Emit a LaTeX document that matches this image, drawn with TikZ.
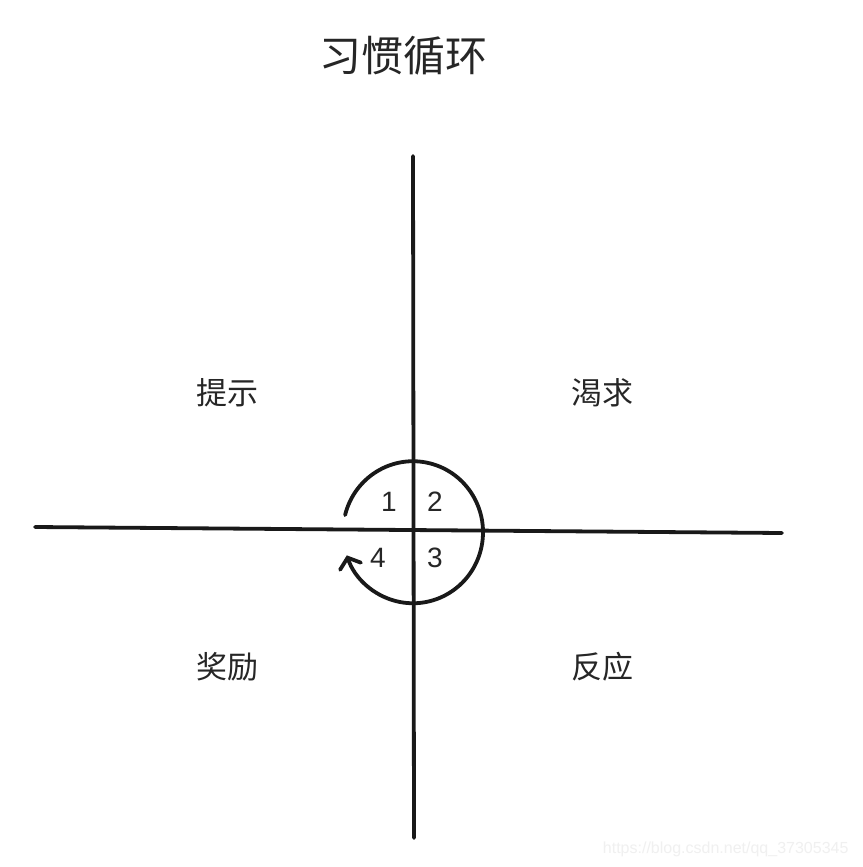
\documentclass[tikz,border=0pt]{standalone}
\usepackage{fontspec}
\setmainfont{Liberation Sans}
\newfontfamily\cjk{Noto Sans CJK SC}
\usetikzlibrary{arrows.meta}
\begin{document}
\begin{tikzpicture}[x=1pt,y=-1pt,
  axis/.style={line width=3.8pt,line cap=round,black!90},
  lab/.style={font=\cjk\fontsize{31}{36}\selectfont,text=black!85},
  num/.style={font=\fontsize{28}{32}\selectfont,text=black!85}]
\useasboundingbox[fill=white] (0,0) rectangle (862,867);
\node[font=\cjk\fontsize{42}{48}\selectfont,text=black!85] (title) at (403,56) {习惯循环};
\coordinate (vt) at (413,156);
\coordinate (vb) at (414,838);
\coordinate (hl) at (35,527);
\coordinate (hr) at (782,533);
\draw[axis] (vt) -- (vb);
\draw[axis] (hl) -- (hr);
\coordinate (c) at (413,532);
\draw[line width=3.8pt,line cap=round,black!90,-{Straight Barb[length=9pt,width=22pt,line cap=round]}]
  (c) ++(-166:70) arc[start angle=-166,end angle=161,x radius=70,y radius=71];
\node[num] (n1) at (389,502) {1};
\node[num] (n2) at (435,502) {2};
\node[num] (n3) at (435,558) {3};
\node[num] (n4) at (378,558) {4};
\node[lab] (a) at (227,393) {提示};
\node[lab] (b) at (602,393) {渴求};
\node[lab] (d) at (227,667) {奖励};
\node[lab] (e) at (602,667) {反应};
\node[font=\fontsize{16}{18}\selectfont,text=black!6,anchor=east] (wm) at (852,849) {https://blog.csdn.net/qq\_37305345};
\end{tikzpicture}
\end{document}
